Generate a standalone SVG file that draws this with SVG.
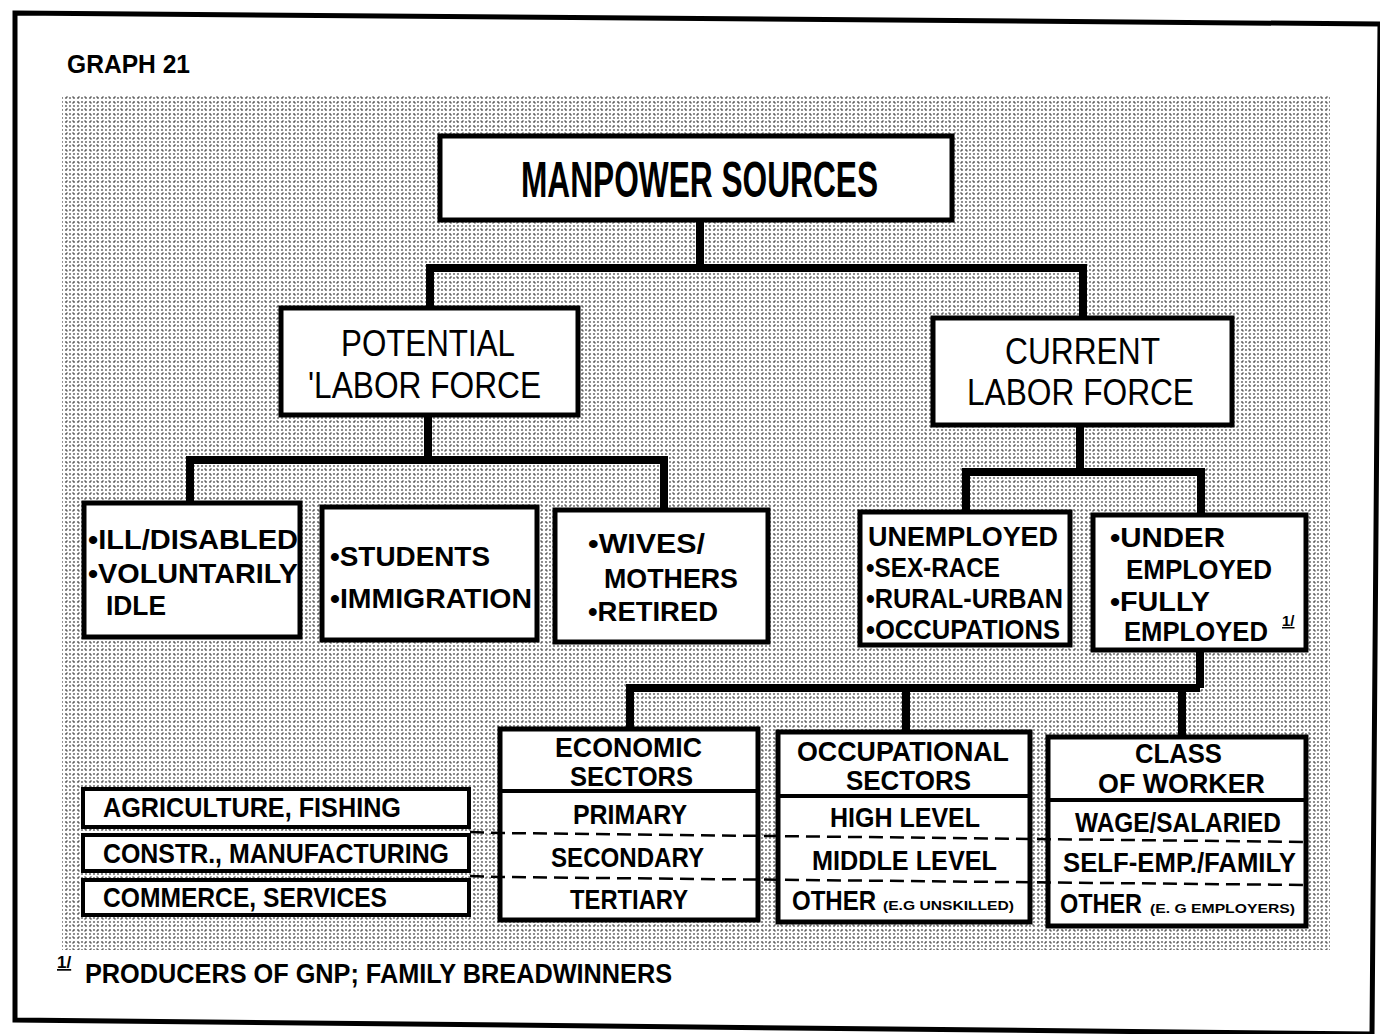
<svg xmlns="http://www.w3.org/2000/svg" width="1380" height="1034" viewBox="0 0 1380 1034">
<style>
text{font-family:"Liberation Sans","DejaVu Sans",Arial,sans-serif;fill:#000}
.t{font-size:28px;font-weight:bold}
.h{font-size:37px}
.s{font-size:13px;font-weight:bold}
.box{fill:#fff;stroke:#000;stroke-width:5}
.tb{fill:#fff;stroke:#000;stroke-width:4}
.con{fill:none;stroke:#000;stroke-width:8;stroke-linejoin:miter}
.dash{fill:none;stroke:#000;stroke-width:2.5;stroke-dasharray:14 7}
.div{stroke:#000;stroke-width:4}
</style>
<defs>
<pattern id="dots" width="4" height="4" patternUnits="userSpaceOnUse">
<circle cx="2" cy="2" r="1.05" fill="#000"/>
</pattern>
<pattern id="dots2" width="6" height="6" patternUnits="userSpaceOnUse">
<circle cx="1" cy="1" r="1.1" fill="#000"/>
</pattern>
</defs>
<rect width="1380" height="1034" fill="#fff"/>
<polygon points="15,13 1380,24 1372,1034 15,1020" fill="none" stroke="#000" stroke-width="5"/>
<text x="67" y="73" style="font-size:25px;font-weight:bold" textLength="123" lengthAdjust="spacingAndGlyphs">GRAPH 21</text>
<rect x="62" y="96" width="1268" height="854" fill="url(#dots)" opacity="0.55"/>
<rect x="62" y="96" width="1268" height="854" fill="url(#dots2)" opacity="0.35"/>
<g id="connectors">
<path class="con" d="M700,220 V268 M430,308 V268 H1083 V318"/>
<path class="con" d="M428,415 V460 M190,503 V460 H664 V510"/>
<path class="con" d="M1080,425 V472 M966,512 V472 H1201 V515"/>
<path class="con" d="M1200,650 V688 M630,728 V688 H1200 M906,730 V688 M1182,737 V688"/>
</g>
<g id="manpower">
<rect class="box" x="440" y="136" width="512" height="84"/>
<text x="521" y="197" style="font-size:50px;font-weight:bold" textLength="357" lengthAdjust="spacingAndGlyphs">MANPOWER SOURCES</text>
</g>
<g id="potential">
<rect class="box" x="281" y="308" width="297" height="107"/>
<text class="h" x="341" y="356" textLength="174" lengthAdjust="spacingAndGlyphs">POTENTIAL</text>
<text class="h" x="308" y="398" textLength="233" lengthAdjust="spacingAndGlyphs">'LABOR FORCE</text>
</g>
<g id="current">
<rect class="box" x="933" y="318" width="299" height="107"/>
<text class="h" x="1005" y="364" textLength="155" lengthAdjust="spacingAndGlyphs">CURRENT</text>
<text class="h" x="967" y="405" textLength="227" lengthAdjust="spacingAndGlyphs">LABOR FORCE</text>
</g>
<g id="ill">
<rect class="box" x="84" y="503" width="216" height="134"/>
<text class="t" x="88" y="549" textLength="210" lengthAdjust="spacingAndGlyphs">•ILL/DISABLED</text>
<text class="t" x="88" y="583" textLength="210" lengthAdjust="spacingAndGlyphs">•VOLUNTARILY</text>
<text class="t" x="106" y="615" textLength="60" lengthAdjust="spacingAndGlyphs">IDLE</text>
</g>
<g id="students">
<rect class="box" x="322" y="507" width="215" height="133"/>
<text class="t" x="330" y="566" textLength="160" lengthAdjust="spacingAndGlyphs">•STUDENTS</text>
<text class="t" x="330" y="608" textLength="202" lengthAdjust="spacingAndGlyphs">•IMMIGRATION</text>
</g>
<g id="wives">
<rect class="box" x="555" y="510" width="213" height="132"/>
<text class="t" x="588" y="553" textLength="117" lengthAdjust="spacingAndGlyphs">•WIVES/</text>
<text class="t" x="604" y="588" textLength="134" lengthAdjust="spacingAndGlyphs">MOTHERS</text>
<text class="t" x="588" y="621" textLength="130" lengthAdjust="spacingAndGlyphs">•RETIRED</text>
</g>
<g id="unemployed">
<rect class="box" x="860" y="512" width="210" height="133"/>
<text class="t" x="868" y="546" textLength="190" lengthAdjust="spacingAndGlyphs">UNEMPLOYED</text>
<text class="t" x="866" y="577" textLength="134" lengthAdjust="spacingAndGlyphs">•SEX-RACE</text>
<text class="t" x="866" y="608" textLength="197" lengthAdjust="spacingAndGlyphs">•RURAL-URBAN</text>
<text class="t" x="866" y="639" textLength="194" lengthAdjust="spacingAndGlyphs">•OCCUPATIONS</text>
</g>
<g id="under">
<rect class="box" x="1093" y="515" width="213" height="135"/>
<text class="t" x="1110" y="547" textLength="115" lengthAdjust="spacingAndGlyphs">•UNDER</text>
<text class="t" x="1126" y="579" textLength="146" lengthAdjust="spacingAndGlyphs">EMPLOYED</text>
<text class="t" x="1110" y="611" textLength="100" lengthAdjust="spacingAndGlyphs">•FULLY</text>
<text class="t" x="1124" y="641" textLength="144" lengthAdjust="spacingAndGlyphs">EMPLOYED</text>
<text x="1282" y="626" style="font-size:15px;font-weight:bold;text-decoration:underline">1/</text>
</g>
<g id="sectors-left">
<rect class="tb" x="83" y="789" width="386" height="38"/>
<text class="t" x="103" y="817" textLength="298" lengthAdjust="spacingAndGlyphs">AGRICULTURE, FISHING</text>
<rect class="tb" x="83" y="835" width="386" height="36"/>
<text class="t" x="103" y="863" textLength="346" lengthAdjust="spacingAndGlyphs">CONSTR., MANUFACTURING</text>
<rect class="tb" x="83" y="880" width="386" height="35"/>
<text class="t" x="103" y="907" textLength="284" lengthAdjust="spacingAndGlyphs">COMMERCE, SERVICES</text>
</g>
<g id="economic">
<rect class="box" x="500" y="729" width="258" height="191"/>
<line class="div" x1="500" y1="791" x2="758" y2="791"/>
<text class="t" x="555" y="757" style="font-size:27px" textLength="147" lengthAdjust="spacingAndGlyphs">ECONOMIC</text>
<text class="t" x="570" y="786" style="font-size:27px" textLength="123" lengthAdjust="spacingAndGlyphs">SECTORS</text>
<text class="t" x="573" y="824" textLength="114" lengthAdjust="spacingAndGlyphs">PRIMARY</text>
<text class="t" x="551" y="867" textLength="153" lengthAdjust="spacingAndGlyphs">SECONDARY</text>
<text class="t" x="570" y="909" textLength="118" lengthAdjust="spacingAndGlyphs">TERTIARY</text>
</g>
<g id="occupational">
<rect class="box" x="778" y="732" width="252" height="190"/>
<line class="div" x1="778" y1="796" x2="1030" y2="796"/>
<text class="t" x="797" y="761" style="font-size:27px" textLength="212" lengthAdjust="spacingAndGlyphs">OCCUPATIONAL</text>
<text class="t" x="846" y="790" style="font-size:27px" textLength="125" lengthAdjust="spacingAndGlyphs">SECTORS</text>
<text class="t" x="830" y="827" textLength="150" lengthAdjust="spacingAndGlyphs">HIGH LEVEL</text>
<text class="t" x="812" y="870" textLength="185" lengthAdjust="spacingAndGlyphs">MIDDLE LEVEL</text>
<text class="t" x="792" y="910" textLength="84" lengthAdjust="spacingAndGlyphs">OTHER</text>
<text class="s" x="883" y="910" textLength="131" lengthAdjust="spacingAndGlyphs">(E.G  UNSKILLED)</text>
</g>
<g id="class">
<rect class="box" x="1048" y="737" width="258" height="189"/>
<line class="div" x1="1048" y1="800" x2="1306" y2="800"/>
<text class="t" x="1135" y="763" style="font-size:27px" textLength="87" lengthAdjust="spacingAndGlyphs">CLASS</text>
<text class="t" x="1098" y="793" style="font-size:27px" textLength="167" lengthAdjust="spacingAndGlyphs">OF WORKER</text>
<text class="t" x="1075" y="832" textLength="206" lengthAdjust="spacingAndGlyphs">WAGE/SALARIED</text>
<text class="t" x="1063" y="872" textLength="233" lengthAdjust="spacingAndGlyphs">SELF-EMP./FAMILY</text>
<text class="t" x="1060" y="913" textLength="82" lengthAdjust="spacingAndGlyphs">OTHER</text>
<text class="s" x="1150" y="913" textLength="145" lengthAdjust="spacingAndGlyphs">(E. G  EMPLOYERS)</text>
</g>
<g id="row-lines">
<path class="dash" d="M470,832 L500,833 L1306,842"/>
<path class="dash" d="M470,876 L500,877 L1306,885"/>
</g>
<g id="footnote">
<text x="57" y="968" style="font-size:17px;font-weight:bold;text-decoration:underline">1/</text>
<text class="t" x="85" y="983" style="font-size:27px" textLength="587" lengthAdjust="spacingAndGlyphs">PRODUCERS OF GNP; FAMILY BREADWINNERS</text>
</g>
</svg>
